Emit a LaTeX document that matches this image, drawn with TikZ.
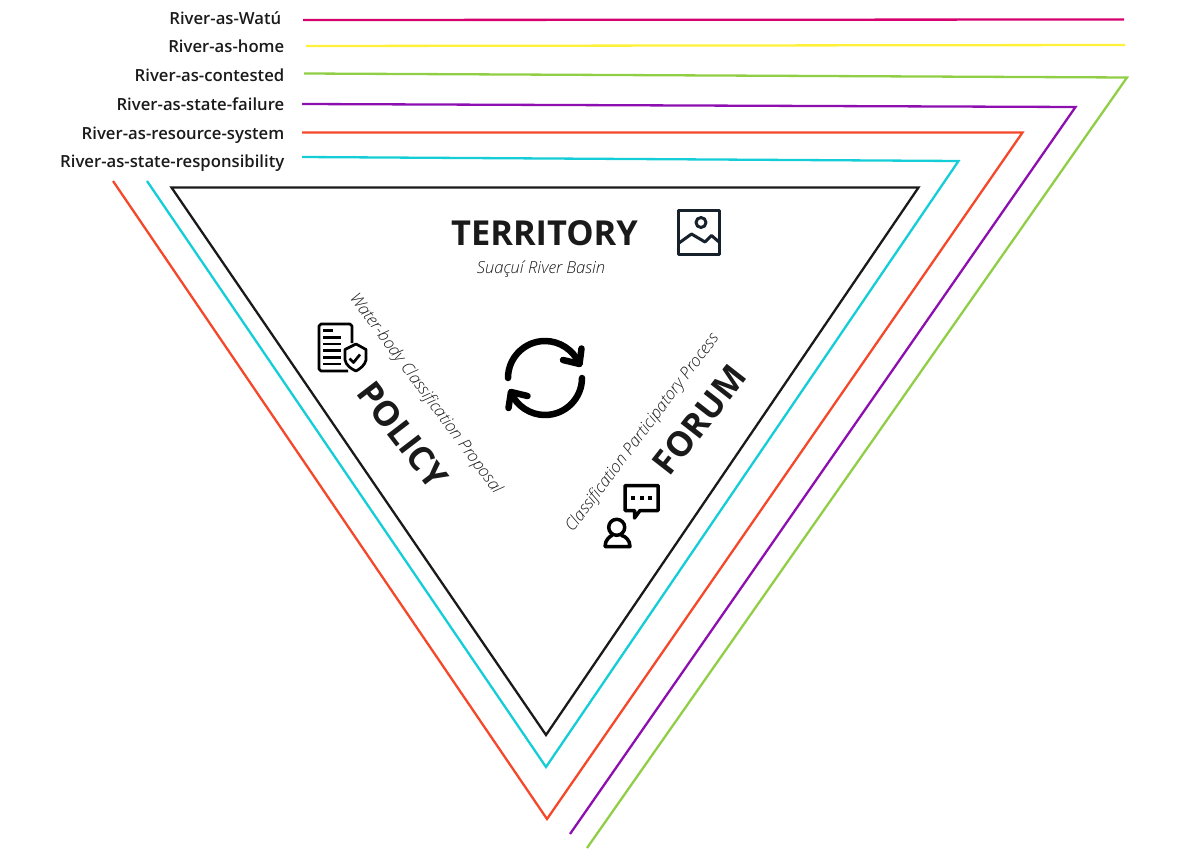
\documentclass[tikz,border=0pt]{standalone}
\usepackage{fontspec}
\setmainfont[BoldFont={Open Sans Semibold}]{Open Sans}
\newfontfamily\lightfont{Open Sans Light}
\newfontfamily\heavyfont{Open Sans}
\definecolor{watu}{HTML}{D6006E}
\definecolor{home}{HTML}{FFF13A}
\definecolor{contested}{HTML}{8FCE45}
\definecolor{failure}{HTML}{8E0FB0}
\definecolor{resource}{HTML}{F5472A}
\definecolor{responsibility}{HTML}{14CDD6}
\definecolor{inkdark}{HTML}{1A1A1A}
\definecolor{inkblue}{HTML}{16212B}
\tikzset{
    riverline/.style={line width=2.3pt, line join=miter},
    riverlabel/.style={anchor=base east, inner sep=0pt, text=inkdark, font=\fontsize{16.7}{18}\selectfont\bfseries},
    bigtitle/.style={inner sep=0pt, text=inkdark, font=\fontsize{34.4}{40}\selectfont\heavyfont\bfseries},
    subtitle/.style={inner sep=0pt, text=inkdark, font=\fontsize{16.6}{20}\selectfont\lightfont\itshape},
    iconline/.style={line width=3.5pt, black, line join=round, line cap=round},
    pictureline/.style={line width=3pt, inkblue, line join=round},
    policyline/.style={line width=2.7pt, black, line join=round},
    syncline/.style={line width=6.5pt, black, line cap=round, line join=round},
}
\begin{document}
\begin{tikzpicture}[x=1pt, y=-1pt]
    \useasboundingbox (0, 0) rectangle (1178, 864);

    \node[riverlabel] (labelwatu) at (281.5, 25) {River-as-Watú};
    \node[riverlabel] (labelhome) at (284.5, 53) {River-as-home};
    \node[riverlabel] (labelcontested) at (284.5, 82) {River-as-contested};
    \node[riverlabel] (labelfailure) at (284.5, 111) {River-as-state-failure};
    \node[riverlabel] (labelresource) at (284.5, 140) {River-as-resource-system};
    \node[riverlabel] (labelresponsibility) at (284.5, 167.7) {River-as-state-responsibility};

    \coordinate (watustart) at (303, 20);
    \coordinate (watuend) at (1124, 19.5);
    \coordinate (homestart) at (306, 46);
    \coordinate (homeend) at (1125, 45);
    \coordinate (contestedstart) at (304, 73.5);
    \coordinate (contestedcorner) at (1127, 77.5);
    \coordinate (contestedend) at (587, 848);
    \coordinate (failurestart) at (302, 104);
    \coordinate (failurecorner) at (1075.5, 107);
    \coordinate (failureend) at (570, 834);
    \coordinate (resourcestart) at (302, 132.5);
    \coordinate (resourcecorner) at (1022.5, 132.5);
    \coordinate (resourcetip) at (547, 819);
    \coordinate (resourceend) at (113, 181);
    \coordinate (responsibilitystart) at (302, 157);
    \coordinate (responsibilitycorner) at (958.5, 161);
    \coordinate (responsibilitytip) at (546, 767);
    \coordinate (responsibilityend) at (147, 181);
    \coordinate (forumcorner) at (918.5, 187.5);
    \coordinate (policycorner) at (171.5, 187.5);
    \coordinate (territorytip) at (546, 735);

    \draw[riverline, watu] (watustart) -- (watuend);
    \draw[riverline, home] (homestart) -- (homeend);
    \draw[riverline, contested] (contestedstart) -- (contestedcorner) -- (contestedend);
    \draw[riverline, failure] (failurestart) -- (failurecorner) -- (failureend);
    \draw[riverline, resource] (resourcestart) -- (resourcecorner) -- (resourcetip) -- (resourceend);
    \draw[riverline, responsibility] (responsibilitystart) -- (responsibilitycorner) -- (responsibilitytip) -- (responsibilityend);
    \draw[riverline, inkdark] (policycorner) -- (forumcorner) -- (territorytip) -- cycle;

    \node[bigtitle] (territory) at (544.5, 233) {TERRITORY};
    \node[subtitle] (basin) at (541, 269) {Suaçuí River Basin};
    \node[bigtitle, rotate=-52.5] (policy) at (403, 435) {POLICY};
    \node[subtitle, rotate=-53.5] (proposal) at (425.5, 394) {Water-body Classification Proposal};
    \node[bigtitle, rotate=52] (forum) at (699.5, 420) {FORUM};
    \node[subtitle, rotate=53] (process) at (642.5, 433) {Classification Participatory Process};

    \draw[pictureline] (678, 210) rectangle (719.5, 254.5);
    \draw[pictureline] (701, 222.5) circle[radius=5];
    \draw[pictureline] (679, 243) -- (691.5, 234) -- (705, 242) -- (711.5, 235.5) -- (719, 242);

    \draw[policyline] (352, 343) -- (352, 326) -- (350, 324) -- (321, 324) -- (319, 326) -- (319, 369) -- (321, 371) -- (348, 371);
    \foreach \liney in {337.3, 344, 350.7, 357.3, 364}
        \draw[policyline] (323, \liney) -- (341, \liney);
    \draw[policyline] (323, 330.7) -- (333, 330.7);
    \draw[policyline] (345, 349.5) -- (356, 344) -- (366, 349.5) -- (366, 360) .. controls (365, 365) and (360, 369) .. (356, 371) .. controls (351, 369) and (346, 365) .. (345, 360) -- cycle;
    \draw[policyline] (349.5, 358.5) -- (353.5, 362.5) -- (360, 354.5);

    \draw[syncline] (508, 378) .. controls (508, 357.6) and (524.6, 341) .. (545, 341) .. controls (560, 341) and (573, 350) .. (579, 363);
    \draw[syncline] (581.5, 348.5) -- (579.5, 364) -- (563, 360);
    \draw[syncline] (582, 378) .. controls (582, 398.4) and (565.4, 415) .. (545, 415) .. controls (530, 415) and (517, 406) .. (511, 393);
    \draw[syncline] (508.5, 408) -- (511, 392) -- (527.5, 396);

    \draw[iconline, line cap=butt] (640, 510.5) -- (634.5, 518) -- (634.5, 510.5) -- (625, 510.5) -- (625, 485.5) -- (658, 485.5) -- (658, 510.5) -- cycle;
    \foreach \dotx in {633.3, 641.7, 650}
        \fill[black] (\dotx - 2, 496.3) rectangle (\dotx + 2, 500.3);
    \draw[iconline] (616.7, 527.3) circle[radius=8];
    \draw[iconline] (605, 546.5) .. controls (605, 540) and (610, 536) .. (612, 535.5) (621.5, 535.5) .. controls (625, 536) and (630, 540) .. (630, 546.5) -- (605, 546.5);
\end{tikzpicture}
\end{document}
